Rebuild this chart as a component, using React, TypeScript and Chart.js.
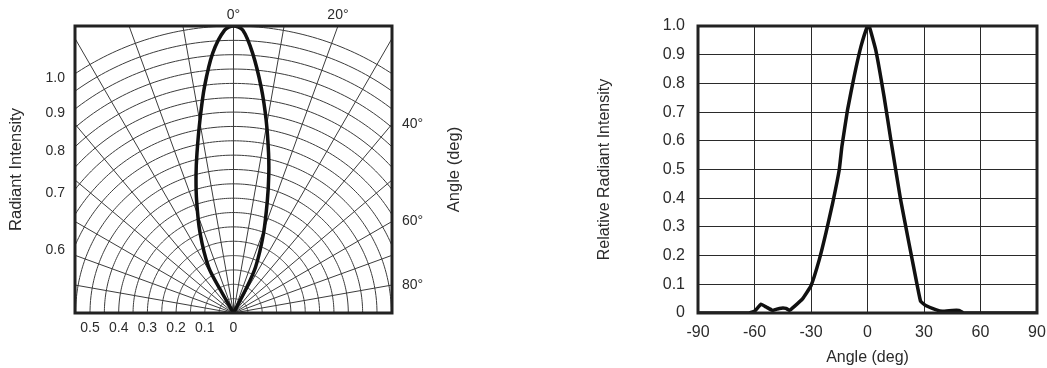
import React, { useEffect, useRef } from 'react';
import { Chart, registerables } from 'chart.js';
Chart.register(...registerables);

// ---------- Left panel: polar radiation pattern ----------
const polarAngles = [-31, -29.5, -28.5, -22.7, -18.1, -15.2, -12.85, -9.85, -7.3, -4.55, -1.8, 0, 1.9, 4.2, 7.0, 9.6, 12.35, 14.35, 16.7, 20.6, 25.6, 27.6, 30];
const polarIntensity = [0, 0.092, 0.182, 0.302, 0.414, 0.498, 0.572, 0.683, 0.795, 0.909, 0.986, 1.0, 0.986, 0.908, 0.792, 0.682, 0.571, 0.496, 0.411, 0.298, 0.178, 0.09, 0];
const polarRings = [0.05, 0.1, 0.15, 0.2, 0.25, 0.3, 0.35, 0.4, 0.45, 0.5, 0.55, 0.6, 0.65, 0.7, 0.75, 0.8, 0.85, 0.9, 0.95, 1.0];
const polarSpokes = [-90, -80, -70, -60, -50, -40, -30, -20, -10, 0, 10, 20, 30, 40, 50, 60, 70, 80, 90];
const polarBottomTicks = [-0.5, -0.4, -0.3, -0.2, -0.1, 0];
const polarLeftRadii = [1.0, 0.9, 0.8, 0.7, 0.6];
const polarTopAngles = [0, 20];
const polarRightAngles = [40, 60, 80];

// ---------- Right panel: relative radiant intensity vs angle ----------
const profileAngles = [-90, -63, -60, -56.5, -53.8, -50.3, -46.8, -43.2, -41.5, -38.8, -34.4, -30, -25.6, -22.1, -18.5, -15, -13.6, -10.6, -7.1, -3.5, 0, 0.9, 4.4, 8.8, 12.4, 17.6, 22, 26.5, 28.2, 30.9, 36.2, 39.7, 45, 48.5, 51.2, 90];
const profileIntensity = [0, 0, 0.006, 0.031, 0.021, 0.009, 0.016, 0.016, 0.009, 0.023, 0.05, 0.095, 0.186, 0.278, 0.383, 0.499, 0.58, 0.708, 0.824, 0.928, 1.0, 1.0, 0.916, 0.754, 0.603, 0.394, 0.244, 0.093, 0.041, 0.026, 0.012, 0.006, 0.009, 0.009, 0, 0];

const FONT = '"Liberation Sans", Arial, Helvetica, sans-serif';
const TEXT = '#2b2b2b';
const HW = 0.5523; // half width of the polar window, in intensity units
const toRad = (d: number) => (d * Math.PI) / 180;

const zeroPad = (s: any) => {
  s.paddingLeft = 0; s.paddingRight = 0; s.paddingTop = 0; s.paddingBottom = 0;
};

const polarPlugin = {
  id: 'polarGrid',
  beforeDatasetsDraw(chart: any) {
    const { ctx, chartArea: a, scales } = chart;
    const x = scales.x, y = scales.y;
    ctx.save();
    ctx.beginPath();
    ctx.rect(a.left, a.top, a.right - a.left, a.bottom - a.top);
    ctx.clip();
    ctx.strokeStyle = '#3c3c3c';
    ctx.lineWidth = 1;
    for (const r of polarRings) {
      ctx.beginPath();
      for (let d = -90; d <= 90; d += 1) {
        const px = x.getPixelForValue(r * Math.sin(toRad(d)));
        const py = y.getPixelForValue(r * Math.cos(toRad(d)));
        if (d === -90) ctx.moveTo(px, py); else ctx.lineTo(px, py);
      }
      ctx.stroke();
    }
    for (const s of polarSpokes) {
      ctx.beginPath();
      ctx.moveTo(x.getPixelForValue(0), y.getPixelForValue(0));
      ctx.lineTo(x.getPixelForValue(2 * Math.sin(toRad(s))), y.getPixelForValue(2 * Math.cos(toRad(s))));
      ctx.stroke();
    }
    ctx.restore();
  },
  afterDraw(chart: any) {
    const { ctx, chartArea: a } = chart;
    ctx.save();
    ctx.strokeStyle = '#222';
    ctx.lineWidth = 3;
    ctx.strokeRect(a.left, a.top, a.right - a.left, a.bottom - a.top);
    ctx.fillStyle = TEXT;
    ctx.font = `16.5px ${FONT}`;
    ctx.textAlign = 'center';
    ctx.textBaseline = 'middle';
    ctx.translate(454, (a.top + a.bottom) / 2);
    ctx.rotate(-Math.PI / 2);
    ctx.fillText('Angle (deg)', 0, 0);
    ctx.restore();
  },
};

const boxPlugin = {
  id: 'box',
  afterDraw(chart: any) {
    const { ctx, chartArea: a } = chart;
    ctx.save();
    ctx.strokeStyle = '#222';
    ctx.lineWidth = 3;
    ctx.strokeRect(a.left, a.top, a.right - a.left, a.bottom - a.top);
    ctx.restore();
  },
};

export default function App() {
  const leftRef = useRef<HTMLCanvasElement>(null);
  const rightRef = useRef<HTMLCanvasElement>(null);

  useEffect(() => {
    const tickFont14 = { family: FONT, size: 14 };
    const left = new Chart(leftRef.current as HTMLCanvasElement, {
      type: 'scatter',
      data: {
        datasets: [{
          data: polarAngles.map((ang, i) => ({
            x: polarIntensity[i] * Math.sin(toRad(ang)),
            y: polarIntensity[i] * Math.cos(toRad(ang)),
          })),
          showLine: true,
          borderColor: '#111',
          borderWidth: 3.5,
          pointRadius: 0,
          tension: 0.3,
        }],
      },
      options: {
        animation: false,
        responsive: false,
        devicePixelRatio: 1,
        events: [],
        layout: { padding: 0 },
        plugins: { legend: { display: false }, tooltip: { enabled: false } },
        scales: {
          x: {
            type: 'linear', position: 'bottom', min: -HW, max: HW,
            afterBuildTicks: (s: any) => { s.ticks = polarBottomTicks.map((v) => ({ value: v })); },
            afterFit: (s: any) => { s.height = 55; zeroPad(s); },
            ticks: {
              callback: (v: any) => (v === 0 ? '0' : Math.abs(v).toFixed(1)),
              font: tickFont14, color: TEXT, padding: 6.6, maxRotation: 0, autoSkip: false,
            },
            grid: { display: false, drawTicks: false },
            border: { display: false },
          },
          x2: {
            type: 'linear', position: 'top', min: -HW, max: HW,
            afterBuildTicks: (s: any) => { s.ticks = polarTopAngles.map((d) => ({ value: Math.tan(toRad(d)) })); },
            afterFit: (s: any) => { s.height = 26; zeroPad(s); },
            ticks: {
              callback: (_v: any, i: number) => `${polarTopAngles[i]}°`,
              font: tickFont14, color: TEXT, padding: 2.6, maxRotation: 0, autoSkip: false,
            },
            grid: { display: false, drawTicks: false },
            border: { display: false },
          },
          y: {
            type: 'linear', position: 'left', min: 0, max: 1,
            afterBuildTicks: (s: any) => { s.ticks = polarLeftRadii.map((r) => ({ value: Math.sqrt(r * r - HW * HW) })); },
            afterFit: (s: any) => { s.width = 75; zeroPad(s); },
            ticks: {
              callback: (_v: any, i: number) => polarLeftRadii[i].toFixed(1),
              font: tickFont14, color: TEXT, padding: 10, labelOffset: 4, autoSkip: false,
            },
            title: { display: true, text: 'Radiant Intensity', color: TEXT, font: { family: FONT, size: 16.5 }, padding: { top: 7, bottom: 0 } },
            grid: { display: false, drawTicks: false },
            border: { display: false },
          },
          y2: {
            type: 'linear', position: 'right', min: 0, max: 1,
            afterBuildTicks: (s: any) => { s.ticks = polarRightAngles.map((d) => ({ value: HW / Math.tan(toRad(d)) })); },
            afterFit: (s: any) => { s.width = 88; zeroPad(s); },
            ticks: {
              callback: (_v: any, i: number) => `${polarRightAngles[i]}°`,
              font: tickFont14, color: TEXT, padding: 10, autoSkip: false,
            },
            grid: { display: false, drawTicks: false },
            border: { display: false },
          },
        },
      } as any,
      plugins: [polarPlugin],
    });

    const tickFont16 = { family: FONT, size: 16 };
    const right = new Chart(rightRef.current as HTMLCanvasElement, {
      type: 'scatter',
      data: {
        datasets: [{
          data: profileAngles.map((ang, i) => ({ x: ang, y: profileIntensity[i] })),
          showLine: true,
          borderColor: '#111',
          borderWidth: 3.5,
          pointRadius: 0,
          tension: 0.1,
        }],
      },
      options: {
        animation: false,
        responsive: false,
        devicePixelRatio: 1,
        events: [],
        layout: { padding: { top: 26, right: 10, left: 0, bottom: 0 } },
        plugins: { legend: { display: false }, tooltip: { enabled: false } },
        scales: {
          x: {
            type: 'linear', min: -90, max: 90,
            afterFit: (s: any) => { s.height = 55; zeroPad(s); },
            ticks: { stepSize: 30, font: tickFont16, color: TEXT, padding: 10.4, maxRotation: 0, autoSkip: false },
            grid: { color: '#2a2a2a', lineWidth: 1, drawTicks: false },
            border: { display: false },
            title: { display: true, text: 'Angle (deg)', color: TEXT, font: { family: FONT, size: 16 }, padding: { top: 0, bottom: 0.4 } },
          },
          y: {
            type: 'linear', min: 0, max: 1,
            afterFit: (s: any) => { s.width = 108; zeroPad(s); },
            ticks: {
              stepSize: 0.1, font: tickFont16, color: TEXT, padding: 13, autoSkip: false,
              callback: (v: any) => (Math.abs(v) < 1e-9 ? '0' : Number(v).toFixed(1)),
            },
            grid: { color: '#2a2a2a', lineWidth: 1, drawTicks: false },
            border: { display: false },
            title: { display: true, text: 'Relative Radiant Intensity', color: TEXT, font: { family: FONT, size: 16 }, padding: { top: 5.4, bottom: 0 } },
          },
        },
      } as any,
      plugins: [boxPlugin],
    });

    return () => { left.destroy(); right.destroy(); };
  }, []);

  return (
    <div style={{ position: 'absolute', left: 0, top: 0, width: 1047, height: 368, background: '#fff' }}>
      <canvas ref={leftRef} width={480} height={368} style={{ position: 'absolute', left: 0, top: 0 }} />
      <canvas ref={rightRef} width={457} height={368} style={{ position: 'absolute', left: 590, top: 0 }} />
    </div>
  );
}
